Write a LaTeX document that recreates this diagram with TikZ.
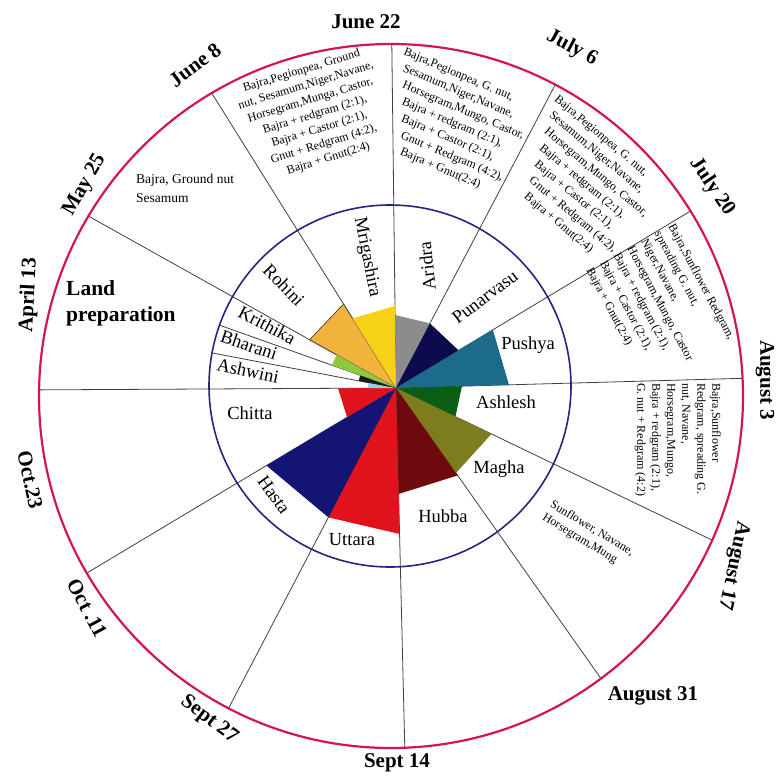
\documentclass[tikz,border=0pt]{standalone}
\usepackage{fontspec}
\setmainfont{Liberation Serif}
\usetikzlibrary{calc}
\definecolor{ringred}{HTML}{D4145A}
\definecolor{ringblue}{HTML}{25257F}
\definecolor{cRohini}{HTML}{F2B33D}
\definecolor{cMrig}{HTML}{F7D117}
\definecolor{cKrit}{HTML}{92C83E}
\definecolor{cBhar}{HTML}{1A1A1A}
\definecolor{cAshw}{HTML}{9CCDE8}
\definecolor{cArid}{HTML}{8C8C8C}
\definecolor{cPuna}{HTML}{0B0B4D}
\definecolor{cPush}{HTML}{1C6B8A}
\definecolor{cAshl}{HTML}{0A5E14}
\definecolor{cMagh}{HTML}{7D7D1E}
\definecolor{cHubb}{HTML}{6E0A0E}
\definecolor{cUtta}{HTML}{E0121C}
\definecolor{cHast}{HTML}{141475}
\definecolor{cChit}{HTML}{E0121C}
\newcommand{\ind}[1]{\hspace*{#1pt}}
\begin{document}
\begin{tikzpicture}[x=1pt,y=1pt,
  spoke/.style={draw=black!75,line width=0.8pt},
  datelbl/.style={font=\bfseries\fontsize{21}{25}\selectfont,inner sep=0pt},
  naklbl/.style={font=\fontsize{18.5}{22}\selectfont,inner sep=0pt},
  croptxt/.style={font=\fontsize{12}{15.5}\selectfont,inner sep=0pt}]
\useasboundingbox (0,0) rectangle (777,-776);
\coordinate (C) at (396,-388);
\coordinate (R) at (391,-396);
\coordinate (B) at (390,-386);
% spokes
\draw[spoke] (C) -- +(180.3:357);
\draw[spoke] (C) -- +(150.8:352.5);
\draw[spoke] (C) -- +(122.0:347.9);
\draw[spoke] (C) -- +(90.7:344);
\draw[spoke] (C) -- +(62.3:342.6);
\draw[spoke] (C) -- +(31.0:343.6);
\draw[spoke] (C) -- +(1.6:346.8);
\draw[spoke] (C) -- +(-25.7:351);
\draw[spoke] (C) -- +(-54.8:355.7);
\draw[spoke] (C) -- +(-88.6:359.9);
\draw[spoke] (C) -- +(-117.6:361.4);
\draw[spoke] (C) -- +(-149.1:360.4);
\draw[spoke] (C) -- +(169.2:187.3);
\draw[spoke] (C) -- +(160.4:187.3);
% wedges
\fill[cRohini] (C) -- +(150.8:99) -- +(122.0:99) -- cycle;
\draw[black!70,line width=0.8pt] (C) -- +(150.8:99) -- +(122.0:99) -- cycle;
\fill[cMrig] (C) -- +(122.0:82) -- +(90.7:82) -- cycle;
\fill[cArid] (C) -- +(90.7:73) -- +(62.3:73) -- cycle;
\fill[cPuna] (C) -- +(62.3:73) -- +(31.0:73) -- cycle;
\fill[cPush] (C) -- +(31.0:113) -- +(1.6:113) -- cycle;
\fill[cAshl] (C) -- +(1.6:66) -- +(-25.7:66) -- cycle;
\fill[cMagh] (C) -- +(-25.7:106) -- +(-54.8:104) -- cycle;
\fill[cHubb] (C) -- +(-54.8:107) -- +(-88.6:106) -- cycle;
\fill[cUtta] (C) -- +(-88.6:146) -- +(-117.6:146) -- cycle;
\fill[cHast] (C) -- +(-117.6:146) -- +(-149.1:151) -- cycle;
\fill[cChit] (C) -- +(-149.1:57) -- +(180.3:58) -- cycle;
\fill[cAshw] (C) -- +(180.3:28) -- +(169.2:28) -- cycle;
\fill[cBhar] (C) -- +(169.2:38) -- +(160.4:38) -- cycle;
\fill[cKrit] (C) -- +(160.4:68) -- +(150.8:68) -- cycle;
% circles
\draw[ringblue,line width=1.6pt] (B) circle (181);
\draw[ringred,line width=2.2pt] (R) circle (352);
% date labels
\node[datelbl] (d1) at (366,-22) {June 22};
\node[datelbl,rotate=-28] (d2) at (572,-48) {July 6};
\node[datelbl,rotate=-56] (d3) at (712,-187) {July 20};
\node[datelbl,rotate=-90] (d4) at (765,-380) {August 3};
\node[datelbl,rotate=-102] (d5) at (733,-566) {August 17};
\node[datelbl] (d6) at (653,-696) {August 31};
\node[datelbl] (d7) at (397,-763) {Sept 14};
\node[datelbl,rotate=-37] (d8) at (209,-720) {Sept 27};
\node[datelbl,rotate=-62] (d9) at (87,-608) {Oct .11};
\node[datelbl,rotate=-78] (d10) at (30,-480) {Oct.23};
\node[datelbl,rotate=87] (d11) at (29,-295) {April 13};
\node[datelbl,rotate=60] (d12) at (85,-185) {May 25};
\node[datelbl,rotate=37] (d13) at (195,-65) {June 8};
\node[datelbl,font=\bfseries\fontsize{21.5}{26}\selectfont,align=left,anchor=west] (lp) at (66,-303) {Land\\preparation};
% nakshatra labels
\node[naklbl,rotate=-46] (n1) at (284,-285) {Rohini};
\node[naklbl,rotate=-79] (n2) at (367,-257) {Mrigashira};
\node[naklbl,rotate=96] (n3) at (427,-266) {Aridra};
\node[naklbl,rotate=37] (n4) at (485,-297) {Punarvasu};
\node[naklbl] (n5) at (528,-345) {Pushya};
\node[naklbl] (n6) at (506,-402) {Ashlesh};
\node[naklbl] (n7) at (499,-469) {Magha};
\node[naklbl] (n8) at (443,-516) {Hubba};
\node[naklbl] (n9) at (352,-540) {Uttara};
\node[naklbl,rotate=-54] (n10) at (274,-495) {Hasta};
\node[naklbl] (n11) at (250,-413) {Chitta};
\node[naklbl,rotate=-12] (n12) at (248,-371) {Ashwini};
\node[naklbl,rotate=-19] (n13) at (249,-345) {Bharani};
\node[naklbl,rotate=-28] (n14) at (267,-325) {Krithika};
% crop texts
\node[croptxt,font=\fontsize{13.5}{19}\selectfont,align=left,anchor=west] (c1) at (136,-188) {Bajra, Ground nut\\Sesamum};
\node[croptxt,font=\fontsize{12}{15.3}\selectfont,align=center,rotate=17] (c2) at (315,-115) {Bajra,Pegionpea, Ground\\nut, Sesamum,Niger,Navane,\\Horsegram,Munga, Castor,\\Bajra + redgram (2:1),\\Bajra + Castor (2:1),\\Gnut + Redgram (4:2),\\Bajra + Gnut(2:4)};
\node[croptxt,font=\fontsize{12}{15.6}\selectfont,align=left,rotate=-23,anchor=north west] (c3) at (406,-47) {Bajra,Pegionpea, G. nut,\\\ind{6}Sesamum,Niger,Navane,\\\ind{12}Horsegram,Mungo, Castor,\\\ind{18}Bajra + redgram (2:1),\\\ind{24}Bajra + Castor (2:1),\\\ind{30}Gnut + Redgram (4:2),\\\ind{36}Bajra + Gnut(2:4)};
\node[croptxt,font=\fontsize{12}{15.7}\selectfont,align=left,rotate=-40,anchor=north west] (c4) at (559,-94) {Bajra,Pegionpea, G. nut,\\\ind{6.6}Sesamum,Niger,Navane,\\\ind{13.2}Horsegram,Mungo, Castor,\\\ind{19.8}Bajra + redgram (2:1),\\\ind{26.4}Bajra + Castor (2:1),\\\ind{33}Gnut + Redgram (4:2),\\\ind{39.6}Bajra + Gnut(2:4)};
\node[croptxt,align=left,rotate=-62] (c5) at (660,-304) {Bajra,Sunflower Redgram,\\spreading G. nut,\\Niger,Navane,\\Horsegram,Mungo, Castor\\Bajra + redgram (2:1),\\Bajra + Castor (2:1),\\Bajra + Gnut(2:4)};
\node[croptxt,font=\fontsize{12}{15}\selectfont,align=left,rotate=-90,anchor=north west] (c6) at (721,-383) {Bajra,Sunflower\\Redgram, spreading G.\\nut, Navane,\\Horsegram,Mungo,\\Bajra + redgram (2:1),\\G. nut + Redgram (4:2)};
\node[croptxt,font=\fontsize{12}{15}\selectfont,align=left,rotate=-31] (c7) at (588,-535) {Sunflower, Navane,\\Horsegram,Mung};
\end{tikzpicture}
\end{document}
